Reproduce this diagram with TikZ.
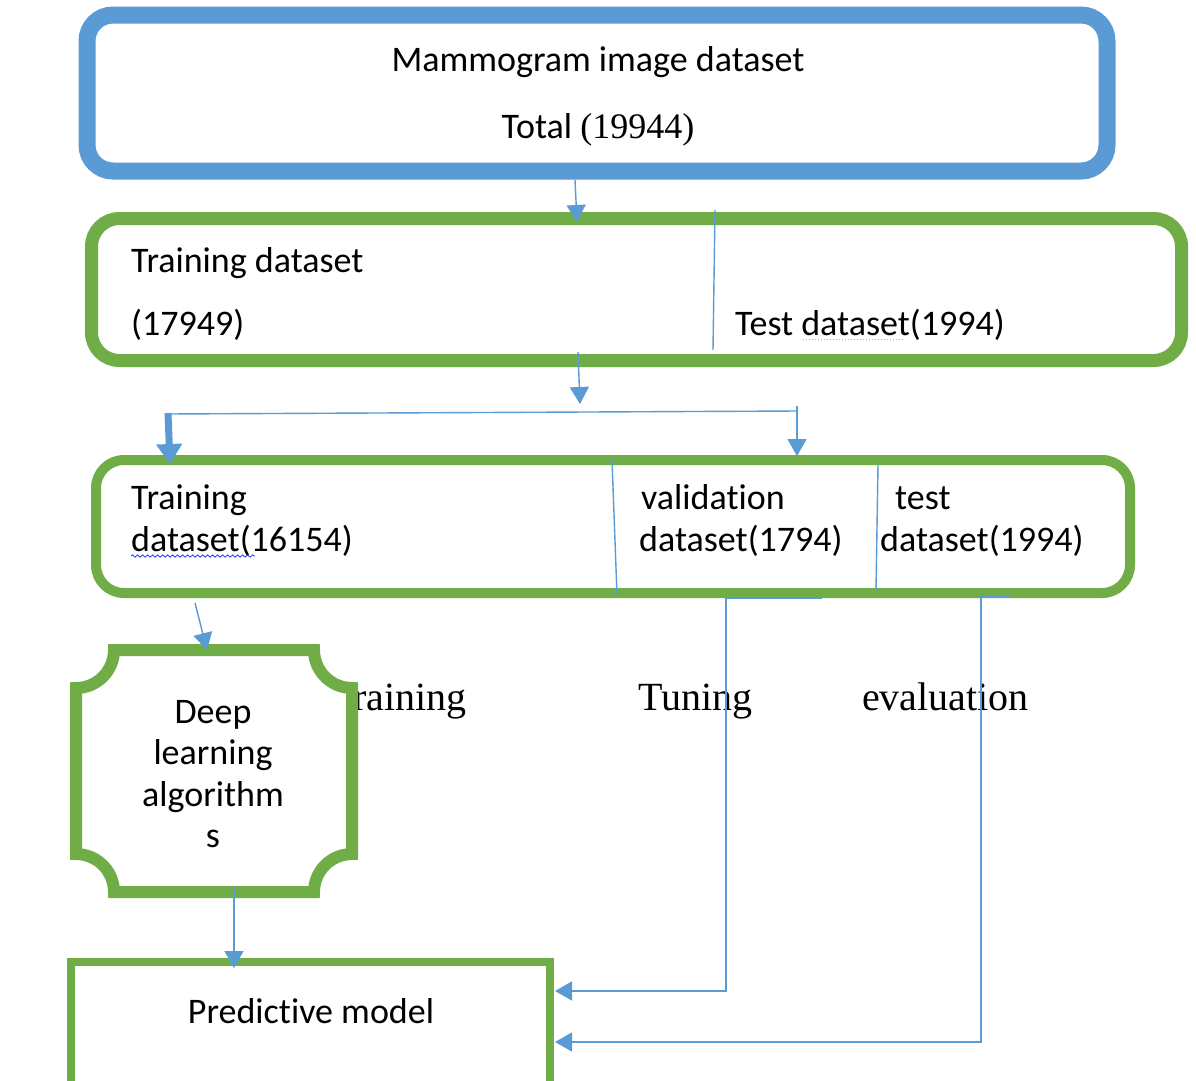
\documentclass[tikz,border=0pt]{standalone}
\usepackage{fontspec}
\setmainfont[Ligatures=CommonOff]{Carlito}
\newfontfamily\serifface{Liberation Serif}
\usetikzlibrary{arrows.meta,decorations.pathmorphing}
\definecolor{frameblue}{HTML}{5B9BD5}
\definecolor{framegreen}{HTML}{70AD47}
\definecolor{linkblue}{HTML}{5B9BD5}
\definecolor{spellblue}{HTML}{2A3BE0}

\begin{document}
\begin{tikzpicture}[x=1pt,y=-1pt,
  txt/.style={font=\fontsize{36}{42}\selectfont, inner sep=0pt, anchor=base west},
  ctxt/.style={font=\fontsize{36}{42}\selectfont, inner sep=0pt, anchor=base},
  stage/.style={font=\serifface\fontsize{40}{46}\selectfont, inner sep=0pt, anchor=base west},
  greenbox/.style={draw=framegreen, rounded corners=28pt, inner sep=0pt},
  link/.style={draw=linkblue, line width=1.4pt},
  arrowlink/.style={link, -{Triangle[width=19pt,length=17pt]}},
  fatlink/.style={draw=linkblue, line width=7pt, -{Triangle[width=25pt,length=20pt]}}
]
\clip (0,0) rectangle (1196,1080);
\fill[white] (0,0) rectangle (1196,1080);

% ---------- frames ----------
\node[draw=frameblue, line width=17pt, rounded corners=26pt, inner sep=0pt,
      minimum width=1020pt, minimum height=156pt] (all) at (597,93) {};
\node[greenbox, line width=13pt, minimum width=1090pt, minimum height=142pt] (split1) at (636.5,289.5) {};
\node[greenbox, line width=10pt, minimum width=1034pt, minimum height=133pt] (split2) at (613,526.5) {};
\node[draw=framegreen, line width=8pt, inner sep=0pt,
      minimum width=479pt, minimum height=148pt] (model) at (310.5,1036) {};

% ---------- texts of the dataset frames ----------
\node[ctxt] (t-mammo) at (598,71) {Mammogram image dataset};
\node[ctxt] (t-total) at (598,138) {Total {\serifface(19944)}};

\node[txt] (t-train1) at (131,272) {Training dataset};
\node[txt] (t-train1n) at (131,335) {(17949)};
\node[txt] (t-test1) at (735,335) {Test dataset(1994)};
\draw[linkblue!70, dotted, line width=1pt] (803,339) -- (905,339);

\node[txt] (t-train2) at (131,509) {Training};
\node[txt] (t-train2n) at (131,551) {dataset(16154)};
\draw[spellblue, line width=0.8pt, decorate,
      decoration={snake, amplitude=1.2pt, segment length=5pt}] (131,556) -- (255,556);
\node[txt] (t-valid) at (641,509) {validation};
\node[txt] (t-validn) at (639,551) {dataset(1794)};
\node[txt] (t-test2) at (895,509) {test};
\node[txt] (t-test2n) at (880,551) {dataset(1994)};

% ---------- stage labels ----------
\node[stage] (s-train) at (330,710) {Training};
\node[stage] (s-tune) at (638,710) {Tuning};
\node[stage] (s-eval) at (862,710) {evaluation};

% ---------- plaque for the learning algorithms ----------
\draw[draw=framegreen, fill=white, line width=12pt]
  (114,650) -- (314,650) .. controls (314,671) and (331,688) .. (352,688)
  -- (352,854) .. controls (331,854) and (314,871) .. (314,892)
  -- (114,892) .. controls (114,871) and (97,854) .. (76,854)
  -- (76,688) .. controls (97,688) and (114,671) .. (114,650) -- cycle;
\node[ctxt] (a1) at (213,723) {Deep};
\node[ctxt] (a2) at (213,764) {learning};
\node[ctxt] (a3) at (213,806) {algorithm};
\node[ctxt] (a4) at (213,847) {s};
\coordinate (algo-top) at (207,650);
\coordinate (algo-bot) at (234,888);

\node[ctxt] (t-model) at (311,1023) {Predictive model};

% ---------- dividers ----------
\draw[link] (715,210) coordinate (d1a) -- (713,350) coordinate (d1b);
\draw[link] (612,460) coordinate (d2a) -- (617,595) coordinate (d2b);
\draw[link] (878,465) coordinate (d3a) -- (876,590) coordinate (d3b);

% ---------- connectors ----------
\coordinate (c1a) at (575,180);
\coordinate (c1b) at (577,222);
\draw[arrowlink] (c1a) -- (c1b);

\coordinate (c2a) at (578,352);
\coordinate (c2b) at (580,404);
\draw[arrowlink] (c2a) -- (c2b);

\coordinate (busL) at (165,414);
\coordinate (busR) at (797,411);
\draw[link] (busL) -- (busR);
\coordinate (busRtop) at (797,406);
\coordinate (busRtip) at (797,456);
\draw[arrowlink] (busRtop) -- (busRtip);
\coordinate (fatTop) at (168,413);
\coordinate (fatTip) at (170,464);
\draw[fatlink] (fatTop) -- (fatTip);

\coordinate (c3a) at (195,603);
\draw[arrowlink] (c3a) -- (algo-top);

\coordinate (model-top) at (234,968);
\draw[arrowlink] (algo-bot) -- (model-top);

\coordinate (tuneStart) at (822,598);
\coordinate (tuneEnd) at (555,991);
\draw[arrowlink] (tuneStart) -- (726,598) -- (726,991) -- (tuneEnd);

\coordinate (evalStart) at (1010,596);
\coordinate (evalEnd) at (555,1042);
\draw[arrowlink] (evalStart) -- (981,596) -- (981,1042) -- (evalEnd);
\end{tikzpicture}
\end{document}
